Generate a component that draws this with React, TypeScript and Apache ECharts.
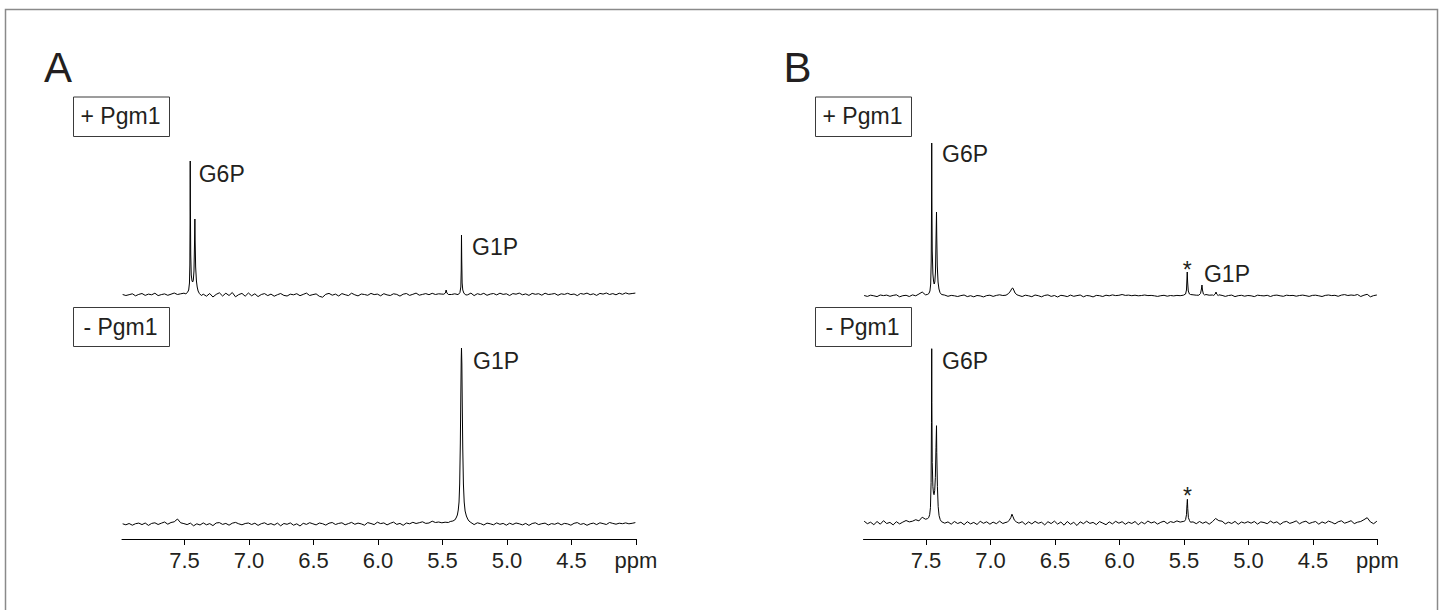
import React, { useEffect, useRef } from 'react';
import * as echarts from 'echarts';

// ---- axis / sampling ----
const PPM_START = 7.98;
const PPM_STEP = 0.025;
const AXIS_MIN = 4.0;
const AXIS_MAX = 7.985;
const TICK_VALUES = [7.5, 7.0, 6.5, 6.0, 5.5, 5.0, 4.5, 4.0];
const AXIS_UNIT = 'ppm';

const PANEL_LABELS = ['A', 'B'];
const CONDITION_LABELS = ['+ Pgm1', '- Pgm1'];

// ---- baselines (intensity, a.u.), sampled from 7.98 ppm every 0.025 ppm ----
const baseAPlus = [
  0.5, -0.5, 0.3, 1.2, -0.8, 0.6, 1.5, -0.4, 0.9, 0.2, 1.8, -0.6, 0.4, 1.1, -0.3, 0.8, 2.0, 0.5, 1.2, 1.8,
  0.5, 0.3, 0.2, 0.5, -1.5, 0.8, -1.2, 1.5, -2.0, 0.6, 2.2, -1.0, 1.8, -0.5, 2.5, -1.8, 0.4, 1.6, -1.2, 2.0,
  -0.8, 1.2, -1.6, 0.5, 1.4, -0.6, 0.9, -1.2, 0.3, 1.5, -0.4, -1.0, 0.8, 0.2, 1.3, -0.7, 0.6, 1.9, -0.5, 0.4,
  1.1, -1.3, -2.2, 0.7, 1.6, -0.2, 0.9, -1.0, 1.4, 0.3, -0.6, 1.8, 0.2, -0.9, 1.0, 0.5, -0.3, 1.6, 0.4, 0.9,
  -0.8, 1.3, 0.1, -0.5, 1.2, 0.6, -1.1, 0.8, 1.5, -0.4, 0.7, 1.9, -0.2, 0.6, 1.4, 0.3, 1.7, 0.5, 1.2, 0.9,
  2.0, 1.0, 0.5, 1.2, 0.4, 0.8, 1.6, 0.2, 1.9, -0.6, 1.3, 0.4, 1.7, -0.3, 0.9, 1.5, 0.1, 1.8, 0.6, 1.2,
  -0.5, 1.4, 0.8, 1.9, 0.2, 1.1, -0.4, 1.6, 0.7, 1.3, -0.2, 1.8, 0.5, 0.9, 1.5, -0.3, 1.2, 0.6, 1.7, 0.4,
  1.0, -0.6, 1.5, 0.8, 1.9, 0.3, 1.2, -0.4, 1.6, 0.9, 2.0, 0.5, 1.4, 0.2, 1.8, 0.7, 2.1, 1.0, 1.5, 1.9,
];
const baseAMinus = [
  0.2, -0.8, 0.5, -1.2, 0.3, 0.9, -0.6, 1.0, -1.4, 0.6, 1.2, -0.5, 0.8, 2.0, -0.2, 1.5, 2.2, 5.0, 1.2, 0.4,
  -0.6, 0.9, -1.8, 0.2, -1.0, 1.1, -0.8, 0.4, -1.6, 1.0, 1.4, -0.4, 0.6, -1.2, 0.8, 1.6, 0.2, -0.8, 0.5, 1.0,
  -0.5, 0.8, -1.4, 0.3, 1.2, -0.6, 0.4, -1.0, 0.9, -1.8, 0.5, -0.3, 1.1, -1.2, 0.2, -2.0, 0.7, -0.4, 1.3, 0.2,
  -0.9, 1.0, 0.3, -1.1, 0.8, 1.5, -0.5, 0.6, 1.2, -0.8, 0.4, 1.6, -0.3, 0.9, 0.1, -1.2, 1.4, 0.5, -0.6, 1.8,
  0.4, 1.1, -0.9, 0.7, 1.9, -0.4, 0.6, -1.3, 1.0, 0.2, 1.7, 0.5, 1.3, 2.2, 0.6, 1.0, 2.8, 1.5, 2.0, 1.2,
  1.8, 1.5, 2.5, 3.0, 2.0, 2.0, 2.0, 1.5, 0.8, -0.6, 1.2, 0.4, -1.0, 0.9, 0.2, -0.8, 1.1, -0.3, 0.6, -1.2,
  0.8, -0.5, 1.0, 0.2, -0.9, 0.6, -1.4, 0.5, 1.2, -0.6, 0.3, 0.9, -1.0, 0.4, -0.3, 1.1, -0.8, 0.6, 0.1, -1.2,
  0.7, 1.4, -0.4, 0.5, -1.3, 0.2, 0.9, -0.6, 1.2, 0.4, -0.5, 1.5, 0.6, -0.2, 0.8, 0.3, 1.1, 0.2, 0.7, 1.4,
];
const baseBPlus = [
  0.5, -0.4, 0.8, 0.2, -0.6, 1.0, 0.4, 0.9, -0.3, 0.6, 1.2, -0.8, 0.3, 0.7, -0.5, 1.1, 0.2, 2.0, 4.0, 1.2,
  1.5, 1.0, 0.8, 1.2, 0.5, 0.9, -0.3, 0.6, 0.2, -0.5, 0.4, 1.0, -0.6, 0.3, -0.8, 0.5, 0.1, -0.9, 0.4, 0.8,
  -0.4, 0.6, 1.2, 0.5, 0.9, 2.0, 2.0, 2.0, 0.6, -0.5, 0.8, 0.2, -0.7, 1.0, 0.3, -0.8, 0.6, 1.1, -0.4, 0.5,
  -1.0, 0.7, 0.2, -0.6, 0.9, -0.3, 0.4, 1.0, -0.8, 0.5, 0.1, -0.9, 0.6, 0.3, -0.5, 0.8, 0.2, 1.1, 0.4, 0.7,
  1.5, 0.6, 0.9, 0.3, 0.8, 0.2, 0.5, 1.0, 0.4, 0.6, 0.2, -0.4, 0.3, 0.7, -0.2, 0.5, 0.1, 0.6, 0.3, 0.8,
  1.0, 1.0, 1.2, 0.8, 1.0, 1.0, 1.5, 0.8, 1.0, 1.0, 1.2, 0.6, -0.4, 0.5, 0.9, -0.6, 0.3, 0.7, -0.2, 0.5,
  0.2, -0.6, 0.8, 0.4, 0.1, 0.7, -0.5, 0.6, 0.9, 0.2, -0.3, 0.8, 0.4, 0.6, -0.2, 0.5, 0.9, 0.3, -0.4, 0.6,
  0.8, 0.2, -0.5, 0.6, 1.0, 0.4, 0.7, -0.3, 0.9, 1.4, 0.5, 1.0, 0.6, 1.5, -0.5, 0.8, 1.7, -0.8, 0.4, 1.0,
];
const baseBMinus = [
  1.5, -1.0, 0.5, -2.0, 1.2, -1.5, 2.0, -0.8, 0.3, -2.2, 1.0, -1.2, 0.6, 2.2, 0.8, 1.5, 3.0, 1.8, 5.5, 3.5,
  6.0, 4.0, 3.0, 2.5, 1.0, -0.5, 0.8, -1.5, 1.2, -0.8, 0.5, -2.0, 1.0, -1.2, 0.3, -1.8, 1.4, -0.6, 0.9, -1.5,
  0.6, -1.0, 1.5, -0.8, 0.4, 2.0, 2.0, 2.0, -0.5, 1.0, -1.8, 0.8, -1.2, 1.3, -0.6, 0.5, -2.2, 1.0, -0.9, 1.6,
  -1.4, 0.7, -2.5, 1.2, -1.6, 0.4, -2.8, 0.9, -1.0, 1.5, -0.7, 0.3, -1.9, 1.1, -0.4, -2.0, 0.8, -1.2, 1.4, -0.5,
  1.0, -1.6, 0.5, -0.8, 1.2, -2.0, 0.6, -1.1, 1.7, -0.3, 0.9, -1.4, 0.4, 1.5, -0.9, 1.1, 0.2, 1.8, 0.6, 1.3,
  2.0, 1.5, 0.8, -1.0, 1.2, -0.6, 0.9, -1.5, 1.0, 4.2, 2.0, 1.5, -1.2, 0.5, -0.8, 1.3, -1.6, 0.7, -0.4, 1.0,
  -0.5, 1.2, -1.4, 0.8, 0.2, -1.0, 1.6, -0.3, 0.9, -1.8, 0.5, 1.3, -0.7, 0.4, 1.8, -1.1, 0.6, 1.5, -0.8, 0.3,
  1.2, -1.5, 0.8, -0.6, 1.6, 0.4, -1.2, 0.9, 1.9, -0.5, 0.6, 2.0, -0.9, 0.5, 1.2, 3.0, 5.0, 0.8, -1.0, 1.5,
];

// ---- peaks [ppm, intensity], each group in descending ppm ----
const peaksAPlus = [
  [[7.49, 1.2], [7.478, 2.5], [7.468, 5], [7.462, 12], [7.459, 30], [7.457, 80], [7.456, 134], [7.455, 90], [7.452, 40], [7.448, 20], [7.442, 14], [7.437, 13], [7.432, 15], [7.427, 24], [7.423, 50], [7.42, 76], [7.418, 55], [7.414, 28], [7.408, 14], [7.402, 8], [7.395, 4], [7.385, 1.5], [7.37, -0.5]],
  [[5.49, 0.8], [5.478, 2], [5.472, 5], [5.466, 2], [5.455, 0.5]],
  [[5.375, 0.8], [5.365, 2.5], [5.358, 8], [5.355, 25], [5.353, 60], [5.351, 35], [5.348, 12], [5.343, 5], [5.335, 2], [5.32, 0]],
];
const peaksAMinus = [
  [[5.44, 2.5], [5.42, 3], [5.405, 4], [5.395, 6], [5.385, 9], [5.378, 14], [5.372, 22], [5.367, 40], [5.362, 80], [5.358, 130], [5.355, 165], [5.353, 176], [5.35, 160], [5.347, 120], [5.343, 75], [5.338, 40], [5.332, 22], [5.325, 13], [5.315, 8], [5.305, 5], [5.295, 3], [5.28, 1.5]],
];
const peaksBPlus = [
  [[7.49, 1.5], [7.478, 2.5], [7.47, 5], [7.464, 12], [7.46, 35], [7.457, 100], [7.456, 153], [7.455, 100], [7.452, 45], [7.447, 22], [7.442, 15], [7.437, 12], [7.432, 14], [7.427, 24], [7.423, 55], [7.419, 84], [7.417, 60], [7.413, 30], [7.407, 14], [7.4, 7], [7.392, 3.5], [7.38, 1.5]],
  [[6.88, 0.8], [6.86, 2.5], [6.845, 5], [6.835, 7.5], [6.828, 8], [6.82, 6], [6.81, 3], [6.795, 1.2], [6.78, 0.5]],
  [[5.5, 0.8], [5.488, 2], [5.481, 6], [5.477, 18], [5.475, 24], [5.472, 14], [5.467, 5], [5.458, 2], [5.45, 1.5]],
  [[5.385, 0.8], [5.372, 2.5], [5.365, 7], [5.361, 11], [5.357, 6], [5.35, 2], [5.34, 1]],
  [[5.27, 0.6], [5.258, 2], [5.252, 4], [5.246, 1.8], [5.235, 0.4]],
];
const peaksBMinus = [
  [[7.49, 4], [7.48, 5], [7.472, 8], [7.466, 15], [7.461, 40], [7.458, 100], [7.456, 174], [7.455, 120], [7.452, 60], [7.447, 36], [7.442, 29], [7.438, 28], [7.433, 32], [7.428, 45], [7.423, 75], [7.419, 97], [7.417, 70], [7.412, 36], [7.406, 16], [7.399, 7], [7.39, 3], [7.38, 1]],
  [[6.87, 0.5], [6.855, 2.5], [6.843, 5], [6.834, 8.5], [6.826, 6], [6.815, 2.5], [6.8, 0.8]],
  [[5.5, 1], [5.488, 3], [5.481, 8], [5.477, 18], [5.474, 23.4], [5.471, 14], [5.466, 5], [5.457, 2], [5.45, 0.5]],
];

// ---- peak annotations: grid, ppm, intensity, text ----
const ANNOTATIONS = [
  { grid: 0, ppm: 7.456, value: 134, text: 'G6P', dx: 8.5, dy: 12.7, align: 'left' },
  { grid: 0, ppm: 5.353, value: 60, text: 'G1P', dx: 10.6, dy: 12, align: 'left' },
  { grid: 1, ppm: 5.353, value: 176, text: 'G1P', dx: 11.6, dy: 12.5, align: 'left' },
  { grid: 2, ppm: 7.456, value: 153, text: 'G6P', dx: 10.3, dy: 10.7, align: 'left' },
  { grid: 2, ppm: 5.475, value: 24, text: '*', dx: 0, dy: -2.5, align: 'center' },
  { grid: 2, ppm: 5.361, value: 11, text: 'G1P', dx: 2, dy: -11.5, align: 'left' },
  { grid: 3, ppm: 7.456, value: 174, text: 'G6P', dx: 10.3, dy: 12, align: 'left' },
  { grid: 3, ppm: 5.474, value: 23.4, text: '*', dx: 0, dy: -3.2, align: 'center' },
];

function buildTrace(baseline: number[], peaks: number[][][]) {
  const pts: number[][] = [];
  baseline.forEach((v, i) => {
    const ppm = +(PPM_START - i * PPM_STEP).toFixed(3);
    const inside = peaks.some((g) => ppm <= g[0][0] && ppm >= g[g.length - 1][0]);
    if (!inside) pts.push([ppm, v]);
  });
  peaks.forEach((g) => g.forEach((p) => pts.push(p)));
  pts.sort((a, b) => b[0] - a[0]);
  return pts;
}

const FONT = '"Liberation Sans", Arial, Helvetica, sans-serif';
const TEXT_COLOR = '#231f20';

// layout
const GRIDS = [
  { left: 122, top: 100, width: 514, height: 210, yMin: -15, yMax: 195 },
  { left: 122, top: 330, width: 514, height: 209, yMin: -15, yMax: 194 },
  { left: 863.5, top: 100, width: 514, height: 210, yMin: -14, yMax: 196 },
  { left: 863.5, top: 330, width: 514, height: 209, yMin: -16.3, yMax: 192.7 },
];

export default function App() {
  const ref = useRef<HTMLDivElement>(null);

  useEffect(() => {
    if (!ref.current) return;
    const chart = echarts.init(ref.current, null, { renderer: 'svg' });
    const traces = [
      buildTrace(baseAPlus, peaksAPlus),
      buildTrace(baseAMinus, peaksAMinus),
      buildTrace(baseBPlus, peaksBPlus),
      buildTrace(baseBMinus, peaksBMinus),
    ];
    const isBottom = (i: number) => i % 2 === 1;

    chart.setOption({
      animation: false,
      backgroundColor: '#ffffff',
      grid: GRIDS.map((g) => ({
        left: g.left,
        top: g.top,
        width: g.width,
        height: g.height,
        containLabel: false,
        outerBoundsMode: 'none',
      })),
      xAxis: GRIDS.map((_, i) => ({
        type: 'value',
        gridIndex: i,
        min: AXIS_MIN,
        max: AXIS_MAX,
        inverse: true,
        show: isBottom(i),
        axisLine: { show: true, onZero: false, lineStyle: { color: '#000', width: 1 } },
        axisTick: {
          show: true,
          length: 6,
          customValues: TICK_VALUES,
          lineStyle: { color: '#000', width: 1 },
        },
        axisLabel: {
          show: true,
          customValues: TICK_VALUES,
          margin: 10,
          fontSize: 22,
          fontFamily: FONT,
          color: TEXT_COLOR,
          formatter: (v: number) => (Math.abs(v - 4) < 1e-6 ? AXIS_UNIT : v.toFixed(1)),
        },
        splitLine: { show: false },
      })),
      yAxis: GRIDS.map((g, i) => ({
        type: 'value',
        gridIndex: i,
        min: g.yMin,
        max: g.yMax,
        show: false,
        splitLine: { show: false },
      })),
      series: traces.map((data, i) => ({
        type: 'line',
        xAxisIndex: i,
        yAxisIndex: i,
        data,
        showSymbol: false,
        symbol: 'none',
        silent: true,
        lineStyle: { color: '#000', width: 1 },
      })),
    });

    const txt = (x: number, y: number, text: string, size: number, align = 'left') => ({
      type: 'text',
      x,
      y,
      silent: true,
      style: {
        text,
        fill: TEXT_COLOR,
        fontSize: size,
        fontFamily: FONT,
        align,
        verticalAlign: 'middle',
        textAlign: align,
        textVerticalAlign: 'middle',
      },
    });

    const graphics: any[] = [
      {
        type: 'rect',
        silent: true,
        shape: { x: 5.5, y: 9.5, width: 1432, height: 640 },
        style: { fill: 'none', stroke: '#8a8a8a', lineWidth: 1.5 },
      },
    ];
    PANEL_LABELS.forEach((p, pi) => {
      const off = pi * 742;
      graphics.push(txt(44 + off - (pi ? 2.5 : 0), 67.5, p, 42));
      CONDITION_LABELS.forEach((c, ci) => {
        const y0 = ci === 0 ? 97 : 307.5;
        const h = ci === 0 ? 39.5 : 39;
        graphics.push({
          type: 'rect',
          silent: true,
          shape: { x: 73.5 + off, y: y0, width: 96, height: h },
          style: { fill: 'none', stroke: '#3a3a3a', lineWidth: 1 },
        });
        graphics.push(txt(120.5 + off, y0 + h / 2 - 0.5, c, 23, 'center'));
      });
    });
    ANNOTATIONS.forEach((a) => {
      const p = chart.convertToPixel({ gridIndex: a.grid }, [a.ppm, a.value]) as number[];
      graphics.push(txt(p[0] + a.dx, p[1] + a.dy, a.text, 23, a.align));
    });

    chart.setOption({ graphic: graphics });

    return () => chart.dispose();
  }, []);

  return (
    <div
      ref={ref}
      style={{ position: 'absolute', left: 0, top: 0, width: 1445, height: 610, background: '#fff' }}
    />
  );
}
